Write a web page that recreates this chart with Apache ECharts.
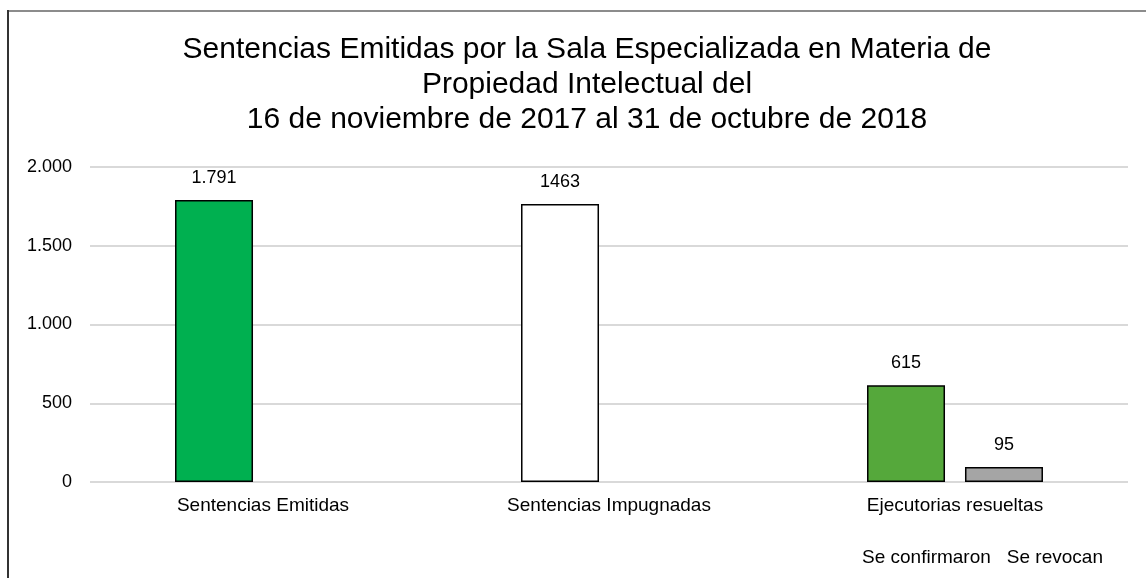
<!DOCTYPE html>
<html>
<head>
<meta charset="utf-8">
<script src="https://cdn.jsdelivr.net/npm/echarts@6/dist/echarts.min.js"></script>
<style>
  html, body { margin: 0; padding: 0; background: #fff; }
  #main { width: 1146px; height: 578px; }
</style>
</head>
<body>
<div id="main"></div>
<script>
// datos del gráfico
var categorias = ['Sentencias Emitidas', 'Sentencias Impugnadas', 'Ejecutorias resueltas']
var seConfirmaron = [1791, 1765, 615]
var seConfirmaronTexto = ['1.791', '1463', '615']
var seRevocan = [null, null, 95]
var seRevocanTexto = ['', '', '95']
var ticksY = [0, 500, 1000, 1500, 2000]

var coloresConfirmaron = ['#00B050', '#FFFFFF', '#55A83B']
var colorRevocan = '#A5A5A5'

var chartDom = document.getElementById('main');
var myChart = echarts.init(chartDom);

var fuente = '"Liberation Sans", Arial, sans-serif'

function fmtMiles(v) {
  return String(v).replace(/\B(?=(\d{3})+(?!\d))/g, '.')
}

var option = {
  animation: false,
  backgroundColor: '#fff',
  textStyle: { fontFamily: fuente },
  title: {
    text: 'Sentencias Emitidas por la Sala Especializada en Materia de\nPropiedad Intelectual del\n16 de noviembre de 2017 al 31 de octubre de 2018',
    left: 582,
    textAlign: 'center',
    top: 27,
    textStyle: {
      fontFamily: fuente,
      fontSize: 30,
      fontWeight: 'normal',
      color: '#000',
      lineHeight: 35
    }
  },
  legend: {
    left: 851,
    top: 543,
    icon: 'rect',
    itemWidth: 0,
    itemHeight: 0,
    itemGap: 10,
    selectedMode: false,
    textStyle: { fontFamily: fuente, fontSize: 19, color: '#000' },
    data: ['Se confirmaron', 'Se revocan']
  },
  grid: {
    left: 90,
    right: 18,
    top: 167,
    bottom: 96,
    containLabel: false
  },
  xAxis: {
    type: 'category',
    data: categorias,
    axisLine: { show: false },
    axisTick: { show: false },
    axisLabel: {
      margin: 14,
      fontFamily: fuente,
      fontSize: 19,
      color: '#000'
    }
  },
  yAxis: {
    type: 'value',
    min: ticksY[0],
    max: ticksY[ticksY.length - 1],
    interval: ticksY[1] - ticksY[0],
    axisLine: { show: false },
    axisTick: { show: false },
    splitLine: { lineStyle: { color: '#d9d9d9', width: 2 } },
    axisLabel: {
      margin: 18,
      fontFamily: fuente,
      fontSize: 18,
      color: '#000',
      formatter: fmtMiles
    }
  },
  series: [
    {
      name: 'Se confirmaron',
      type: 'bar',
      barWidth: 78,
      barGap: '25.6%',
      data: seConfirmaron.map(function (v, i) {
        return {
          value: v,
          itemStyle: { color: coloresConfirmaron[i] }
        }
      }),
      itemStyle: { borderColor: '#000', borderWidth: 1.5 },
      label: {
        show: true,
        position: 'top',
        distance: 13,
        fontFamily: fuente,
        fontSize: 18,
        color: '#000',
        formatter: function (p) { return seConfirmaronTexto[p.dataIndex] }
      }
    },
    {
      name: 'Se revocan',
      type: 'bar',
      barWidth: 78,
      data: seRevocan,
      itemStyle: { color: colorRevocan, borderColor: '#000', borderWidth: 1.5 },
      label: {
        show: true,
        position: 'top',
        distance: 13,
        fontFamily: fuente,
        fontSize: 18,
        color: '#000',
        formatter: function (p) { return seRevocanTexto[p.dataIndex] }
      }
    }
  ],
  graphic: [
    {
      type: 'line',
      shape: { x1: 8, y1: 11, x2: 1146, y2: 11 },
      style: { stroke: '#8c8c8c', lineWidth: 2 }
    },
    {
      type: 'line',
      shape: { x1: 8, y1: 10, x2: 8, y2: 578 },
      style: { stroke: '#333', lineWidth: 2 }
    }
  ]
};

myChart.setOption(option);
</script>
</body>
</html>
